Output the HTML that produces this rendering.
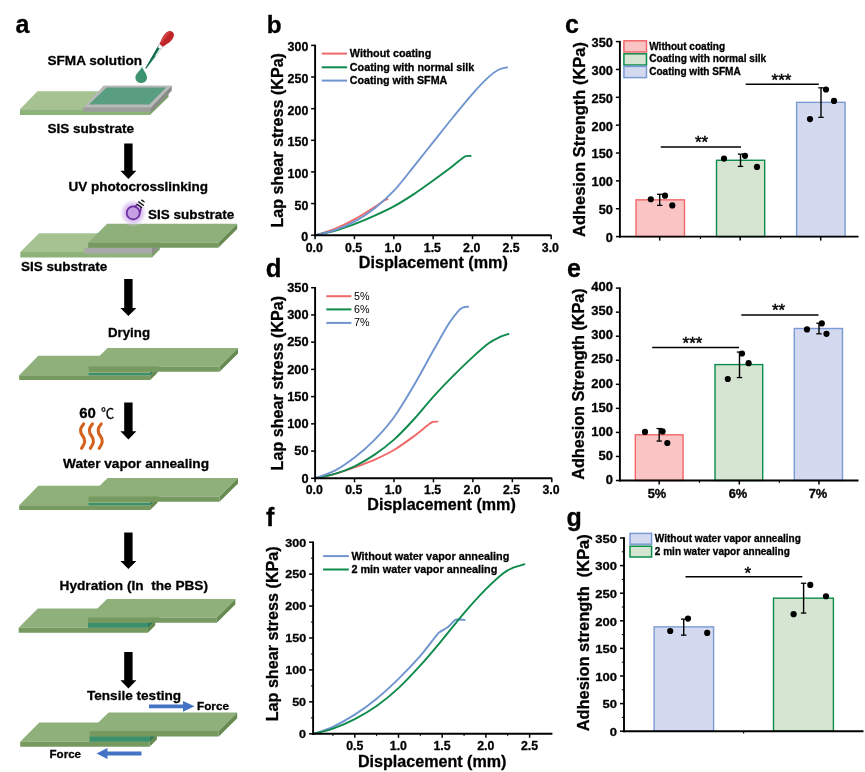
<!DOCTYPE html>
<html lang="en">
<head>
<meta charset="utf-8">
<title>Figure</title>
<style>
html,body{margin:0;padding:0;background:#fff;}
body{width:865px;height:772px;overflow:hidden;}
svg{display:block;filter:blur(0.45px);font-family:'Liberation Sans', 'Noto Sans CJK SC', sans-serif;}
text.b{stroke:#000;stroke-width:0.3px;stroke-linejoin:round;}
</style>
</head>
<body>
<svg width="865" height="772" viewBox="0 0 865 772" font-family="'Liberation Sans', 'Noto Sans CJK SC', sans-serif">
<rect width="865" height="772" fill="#ffffff"/>
<text x="15.50" y="32.50" font-size="25" font-weight="bold" class="b">a</text>
<text x="47.50" y="64.50" font-size="13.55" font-weight="bold" class="b" textLength="94.50" lengthAdjust="spacingAndGlyphs">SFMA solution</text>
<polygon points="37.50,91.20 168.00,91.20 150.00,109.20 20.00,109.20" fill="#a5c290"/>
<polygon points="20.00,109.20 150.00,109.20 150.00,115.00 20.00,115.00" fill="#8db27a"/>
<polygon points="150.00,109.20 168.50,91.20 168.50,97.00 150.00,115.00" fill="#7ea16b"/>
<polygon points="103.70,85.50 171.70,85.50 151.20,107.50 83.20,107.50" fill="#b9b9b9"/>
<polygon points="83.20,107.50 151.20,107.50 151.20,111.80 83.20,111.80" fill="#9d9d9d"/>
<polygon points="151.20,107.50 171.70,85.50 171.70,90.80 151.20,111.80" fill="#8a8a8a"/>
<polygon points="106.50,87.60 166.20,87.60 149.30,104.60 88.80,104.60" fill="#5a9e82"/>
<path d="M142.2,66.2 C142.6,70 147,73 147,77.5 C147,80.8 144.5,83 141.2,83 C137.9,83 135.4,80.8 135.4,77.5 C135.4,73 141,70.5 142.2,66.2 Z" fill="#3d9370"/>
<g transform="translate(145.8,68.5) rotate(-56.5)"><polygon points="0,-0.5 26.5,-2.2 26.5,2.2 0,0.5" fill="#1b7a5d"/><polygon points="0,-0.5 26.5,-2.2 26.5,-0.6 0,0" fill="#13634b"/><polygon points="16,0.7 26.5,0.6 26.5,2.2 16,1.5" fill="#eef3f0"/><polygon points="24.2,-1.9 28.2,-2.2 28.2,2.2 24.2,1.9" fill="#f6f6f6" stroke="#9a9a9a" stroke-width="0.3"/><g transform="translate(27.8,0) rotate(7)"><path d="M0,-2.3 C3,-2.7 6,-4.6 11,-4.6 C15,-4.6 17.6,-2.7 17.6,0 C17.6,2.7 15,4.6 11,4.6 C6,4.6 3,2.7 0,2.3 Z" fill="#bf2429"/><path d="M2,-2.1 C5,-3 7,-3.8 11,-3.8 C13.6,-3.8 15.4,-2.9 16.2,-1.6 C12,-2.2 6.5,-1.4 2,-0.7 Z" fill="#d9514d" opacity="0.75"/></g></g>
<text x="47.50" y="133.20" font-size="13.55" font-weight="bold" class="b" textLength="86.50" lengthAdjust="spacingAndGlyphs">SIS substrate</text>
<polygon points="124.20,143.40 132.60,143.40 132.60,170.80 136.40,170.80 128.40,179.00 120.40,170.80 124.20,170.80" fill="#000"/>
<text x="68.40" y="191.20" font-size="13.55" font-weight="bold" class="b" textLength="139.60" lengthAdjust="spacingAndGlyphs">UV photocrosslinking</text>
<defs><radialGradient id="uvg"><stop offset="0" stop-color="#c49ae6" stop-opacity="1"/><stop offset="0.5" stop-color="#c9a4e8" stop-opacity="0.85"/><stop offset="0.8" stop-color="#dcc4f0" stop-opacity="0.45"/><stop offset="1" stop-color="#efe4f8" stop-opacity="0"/></radialGradient></defs>
<polygon points="39.10,233.30 170.00,233.30 152.00,251.90 20.30,251.90" fill="#a5c290"/>
<polygon points="20.30,251.90 152.00,251.90 152.00,257.40 20.30,257.40" fill="#8db27a"/>
<polygon points="152.00,251.90 159.80,244.00 159.80,249.60 152.00,257.40" fill="#7ea16b"/>
<polygon points="84.40,247.50 152.00,247.50 152.00,253.80 84.40,253.80" fill="#a9a8a9"/>
<polygon points="152.00,247.50 159.80,240.00 159.80,246.20 152.00,253.80" fill="#8e8d8e"/>
<polygon points="107.10,223.70 237.20,223.70 218.30,242.70 88.20,242.70" fill="#8fb07a"/>
<polygon points="88.20,242.70 218.30,242.70 218.30,247.80 88.20,247.80" fill="#76995f"/>
<polygon points="218.30,242.70 237.20,223.70 237.20,229.00 218.30,247.80" fill="#668a50"/>
<circle cx="133.20" cy="212.90" r="14" fill="url(#uvg)"/>
<path d="M134.6,206.6 L137.0,204.9 M139.6,213.0 C140.4,211 140.8,209.4 141.0,207.6" stroke="#6a2ca0" stroke-width="1.6" fill="none" stroke-linecap="round"/>
<circle cx="133.2" cy="212.9" r="6.5" fill="#c3a0e0" fill-opacity="0.85" stroke="#6a2ca0" stroke-width="1.7"/>
<g stroke="#0d0d0d" stroke-width="1.3" stroke-linecap="round"><line x1="137.1" y1="204.2" x2="141.6" y2="207.5"/><line x1="138.7" y1="201.9" x2="143.4" y2="205.3"/><line x1="141.7" y1="200.1" x2="144.1" y2="201.8"/></g>
<text x="148.00" y="219.00" font-size="13.55" font-weight="bold" class="b" textLength="86.20" lengthAdjust="spacingAndGlyphs">SIS substrate</text>
<text x="21.00" y="271.20" font-size="13.55" font-weight="bold" class="b" textLength="86.20" lengthAdjust="spacingAndGlyphs">SIS substrate</text>
<polygon points="124.20,278.90 132.60,278.90 132.60,307.90 136.40,307.90 128.40,316.10 120.40,307.90 124.20,307.90" fill="#000"/>
<text x="108.00" y="336.80" font-size="13.55" font-weight="bold" class="b" textLength="42.00" lengthAdjust="spacingAndGlyphs">Drying</text>
<polygon points="38.30,355.80 170.00,355.80 150.20,375.20 19.20,375.20" fill="#8fb07a"/>
<polygon points="19.20,375.20 150.20,375.20 150.20,380.10 19.20,380.10" fill="#76995f"/>
<polygon points="150.20,375.20 157.50,367.90 157.50,372.80 150.20,380.10" fill="#668a50"/>
<polygon points="88.60,373.00 150.20,373.00 150.20,375.20 88.60,375.20" fill="#3a8f6c"/>
<polygon points="150.20,373.00 152.40,370.80 152.50,373.00 150.20,375.20" fill="#2c7a5a"/>
<polygon points="107.60,348.00 238.00,348.00 219.50,366.50 88.60,366.50" fill="#8fb07a"/>
<polygon points="88.60,366.50 219.50,366.50 219.50,371.80 88.60,371.80" fill="#76995f"/>
<polygon points="219.50,366.50 238.00,348.00 238.00,353.60 219.50,371.80" fill="#668a50"/>
<text x="79.20" y="417.80" font-size="15" font-weight="bold" class="b" textLength="16.60" lengthAdjust="spacingAndGlyphs">60</text>
<text x="100.90" y="417.80" font-size="13.2" stroke="#000" stroke-width="0.3">℃</text>
<polygon points="124.20,402.40 132.60,402.40 132.60,431.30 136.40,431.30 128.40,439.50 120.40,431.30 124.20,431.30" fill="#000"/>
<path d="M83.6,424 c-4.5,5 -3.5,8.5 -0.8,12 c2.8,3.8 2.8,7 -1.2,12.2" fill="none" stroke="#d4611d" stroke-width="3.2" stroke-linecap="round"/>
<path d="M92.4,424 c-4.5,5 -3.5,8.5 -0.8,12 c2.8,3.8 2.8,7 -1.2,12.2" fill="none" stroke="#d4611d" stroke-width="3.2" stroke-linecap="round"/>
<path d="M101.2,424 c-4.5,5 -3.5,8.5 -0.8,12 c2.8,3.8 2.8,7 -1.2,12.2" fill="none" stroke="#d4611d" stroke-width="3.2" stroke-linecap="round"/>
<text x="63.00" y="468.00" font-size="13.55" font-weight="bold" class="b" textLength="146.00" lengthAdjust="spacingAndGlyphs">Water vapor annealing</text>
<polygon points="38.30,485.80 170.00,485.80 150.20,505.20 19.20,505.20" fill="#8fb07a"/>
<polygon points="19.20,505.20 150.20,505.20 150.20,510.10 19.20,510.10" fill="#76995f"/>
<polygon points="150.20,505.20 157.50,497.90 157.50,502.80 150.20,510.10" fill="#668a50"/>
<polygon points="88.60,503.00 150.20,503.00 150.20,505.20 88.60,505.20" fill="#3a8f6c"/>
<polygon points="150.20,503.00 152.40,500.80 152.50,503.00 150.20,505.20" fill="#2c7a5a"/>
<polygon points="107.60,478.00 238.00,478.00 219.50,496.50 88.60,496.50" fill="#8fb07a"/>
<polygon points="88.60,496.50 219.50,496.50 219.50,501.80 88.60,501.80" fill="#76995f"/>
<polygon points="219.50,496.50 238.00,478.00 238.00,483.60 219.50,501.80" fill="#668a50"/>
<polygon points="124.20,532.40 132.60,532.40 132.60,560.90 136.40,560.90 128.40,569.10 120.40,560.90 124.20,560.90" fill="#000"/>
<text x="59.60" y="589.50" font-size="13.55" font-weight="bold" class="b" textLength="148.40" lengthAdjust="spacingAndGlyphs">Hydration (In  the PBS)</text>
<polygon points="37.80,608.40 169.50,608.40 147.90,627.80 18.70,627.80" fill="#8fb07a"/>
<polygon points="18.70,627.80 147.90,627.80 147.90,632.70 18.70,632.70" fill="#76995f"/>
<polygon points="147.90,627.80 155.20,620.50 155.20,625.40 147.90,632.70" fill="#668a50"/>
<polygon points="88.10,622.40 147.90,622.40 147.90,627.80 88.10,627.80" fill="#3a8f6c"/>
<polygon points="147.90,622.40 153.30,617.00 153.40,622.40 147.90,627.80" fill="#2c7a5a"/>
<polygon points="107.10,598.90 235.30,598.90 216.80,617.40 88.10,617.40" fill="#8fb07a"/>
<polygon points="88.10,617.40 216.80,617.40 216.80,622.70 88.10,622.70" fill="#76995f"/>
<polygon points="216.80,617.40 235.30,598.90 235.30,604.50 216.80,622.70" fill="#668a50"/>
<polygon points="124.20,651.90 132.60,651.90 132.60,680.30 136.40,680.30 128.40,688.50 120.40,680.30 124.20,680.30" fill="#000"/>
<text x="87.00" y="700.00" font-size="13.55" font-weight="bold" class="b" textLength="94.00" lengthAdjust="spacingAndGlyphs">Tensile testing</text>
<polygon points="149.00,704.60 183.00,704.60 183.00,701.00 194.50,706.30 183.00,711.80 183.00,708.20 149.00,708.20" fill="#4472c4"/>
<text x="197.00" y="710.20" font-size="11.75" font-weight="bold" class="b" textLength="32.00" lengthAdjust="spacingAndGlyphs">Force</text>
<polygon points="39.30,722.40 171.00,722.40 149.60,741.80 20.20,741.80" fill="#8fb07a"/>
<polygon points="20.20,741.80 149.60,741.80 149.60,746.70 20.20,746.70" fill="#76995f"/>
<polygon points="149.60,741.80 156.90,734.50 156.90,739.40 149.60,746.70" fill="#668a50"/>
<polygon points="89.60,736.30 149.60,736.30 149.60,741.80 89.60,741.80" fill="#3a8f6c"/>
<polygon points="149.60,736.30 155.10,730.80 155.20,736.30 149.60,741.80" fill="#2c7a5a"/>
<polygon points="108.60,712.60 237.20,712.60 218.70,731.10 89.60,731.10" fill="#8fb07a"/>
<polygon points="89.60,731.10 218.70,731.10 218.70,736.40 89.60,736.40" fill="#76995f"/>
<polygon points="218.70,731.10 237.20,712.60 237.20,718.20 218.70,736.40" fill="#668a50"/>
<text x="49.50" y="758.00" font-size="11.75" font-weight="bold" class="b" textLength="31.50" lengthAdjust="spacingAndGlyphs">Force</text>
<polygon points="141.50,751.60 107.50,751.60 107.50,748.00 96.50,753.50 107.50,759.00 107.50,755.40 141.50,755.40" fill="#4472c4"/>
<text x="266.70" y="32.50" font-size="24.3" font-weight="bold" class="b">b</text>
<path d="M315.10,235.20 C318.38,234.15 328.22,231.51 334.78,228.87 C341.33,226.24 347.89,222.97 354.45,219.38 C361.01,215.80 369.14,210.53 374.12,207.36 C379.11,204.20 382.13,201.77 384.36,200.40 C386.59,199.03 386.98,199.35 387.50,199.14" fill="none" stroke="#f0696a" stroke-width="1.9" stroke-linecap="round" stroke-linejoin="round"/>
<path d="M315.10,235.20 C318.38,234.46 328.22,232.62 334.78,230.77 C341.33,228.93 347.89,226.61 354.45,224.13 C361.01,221.65 367.57,218.86 374.12,215.90 C380.68,212.95 387.24,210.00 393.80,206.41 C400.36,202.83 406.92,198.72 413.48,194.39 C420.03,190.07 426.59,185.22 433.15,180.47 C439.71,175.73 448.10,169.51 452.83,165.92 C457.55,162.34 459.32,160.60 461.48,158.96 C463.65,157.33 464.29,156.62 465.81,156.12 C467.33,155.61 469.81,155.96 470.61,155.93" fill="none" stroke="#0d8a4c" stroke-width="1.9" stroke-linecap="round" stroke-linejoin="round"/>
<path d="M315.10,235.20 C318.38,234.36 328.22,232.41 334.78,230.14 C341.33,227.87 347.89,225.18 354.45,221.60 C361.01,218.01 367.57,213.74 374.12,208.63 C380.68,203.51 387.24,197.87 393.80,190.91 C400.36,183.95 406.92,174.99 413.48,166.87 C420.03,158.75 426.59,150.42 433.15,142.20 C439.71,133.97 446.27,125.59 452.83,117.52 C459.38,109.46 466.60,100.49 472.50,93.80 C478.40,87.10 483.91,81.36 488.24,77.35 C492.57,73.34 495.32,71.42 498.47,69.76 C501.62,68.09 505.69,67.75 507.13,67.35" fill="none" stroke="#6f94cf" stroke-width="1.9" stroke-linecap="round" stroke-linejoin="round"/>
<line x1="315.10" y1="44.70" x2="315.10" y2="236.15" stroke="#000" stroke-width="1.9" stroke-linecap="butt"/>
<line x1="314.15" y1="235.20" x2="551.40" y2="235.20" stroke="#000" stroke-width="1.9" stroke-linecap="butt"/>
<line x1="311.10" y1="235.20" x2="315.10" y2="235.20" stroke="#000" stroke-width="1.5" stroke-linecap="butt"/>
<text x="308.30" y="241.20" font-size="12.2" font-weight="bold" class="b" text-anchor="end" textLength="6.91" lengthAdjust="spacingAndGlyphs">0</text>
<line x1="311.10" y1="203.57" x2="315.10" y2="203.57" stroke="#000" stroke-width="1.5" stroke-linecap="butt"/>
<text x="308.30" y="209.57" font-size="12.2" font-weight="bold" class="b" text-anchor="end" textLength="13.81" lengthAdjust="spacingAndGlyphs">50</text>
<line x1="311.10" y1="171.93" x2="315.10" y2="171.93" stroke="#000" stroke-width="1.5" stroke-linecap="butt"/>
<text x="308.30" y="177.93" font-size="12.2" font-weight="bold" class="b" text-anchor="end" textLength="20.72" lengthAdjust="spacingAndGlyphs">100</text>
<line x1="311.10" y1="140.30" x2="315.10" y2="140.30" stroke="#000" stroke-width="1.5" stroke-linecap="butt"/>
<text x="308.30" y="146.30" font-size="12.2" font-weight="bold" class="b" text-anchor="end" textLength="20.72" lengthAdjust="spacingAndGlyphs">150</text>
<line x1="311.10" y1="108.67" x2="315.10" y2="108.67" stroke="#000" stroke-width="1.5" stroke-linecap="butt"/>
<text x="308.30" y="114.67" font-size="12.2" font-weight="bold" class="b" text-anchor="end" textLength="20.72" lengthAdjust="spacingAndGlyphs">200</text>
<line x1="311.10" y1="77.03" x2="315.10" y2="77.03" stroke="#000" stroke-width="1.5" stroke-linecap="butt"/>
<text x="308.30" y="83.03" font-size="12.2" font-weight="bold" class="b" text-anchor="end" textLength="20.72" lengthAdjust="spacingAndGlyphs">250</text>
<line x1="311.10" y1="45.40" x2="315.10" y2="45.40" stroke="#000" stroke-width="1.5" stroke-linecap="butt"/>
<text x="308.30" y="51.40" font-size="12.2" font-weight="bold" class="b" text-anchor="end" textLength="20.72" lengthAdjust="spacingAndGlyphs">300</text>
<line x1="315.10" y1="235.20" x2="315.10" y2="239.20" stroke="#000" stroke-width="1.5" stroke-linecap="butt"/>
<text x="314.30" y="251.60" font-size="12.2" font-weight="bold" class="b" text-anchor="middle" textLength="17.13" lengthAdjust="spacingAndGlyphs">0.0</text>
<line x1="354.45" y1="235.20" x2="354.45" y2="239.20" stroke="#000" stroke-width="1.5" stroke-linecap="butt"/>
<text x="353.65" y="251.60" font-size="12.2" font-weight="bold" class="b" text-anchor="middle" textLength="17.13" lengthAdjust="spacingAndGlyphs">0.5</text>
<line x1="393.80" y1="235.20" x2="393.80" y2="239.20" stroke="#000" stroke-width="1.5" stroke-linecap="butt"/>
<text x="393.00" y="251.60" font-size="12.2" font-weight="bold" class="b" text-anchor="middle" textLength="17.13" lengthAdjust="spacingAndGlyphs">1.0</text>
<line x1="433.15" y1="235.20" x2="433.15" y2="239.20" stroke="#000" stroke-width="1.5" stroke-linecap="butt"/>
<text x="432.35" y="251.60" font-size="12.2" font-weight="bold" class="b" text-anchor="middle" textLength="17.13" lengthAdjust="spacingAndGlyphs">1.5</text>
<line x1="472.50" y1="235.20" x2="472.50" y2="239.20" stroke="#000" stroke-width="1.5" stroke-linecap="butt"/>
<text x="471.70" y="251.60" font-size="12.2" font-weight="bold" class="b" text-anchor="middle" textLength="17.13" lengthAdjust="spacingAndGlyphs">2.0</text>
<line x1="511.85" y1="235.20" x2="511.85" y2="239.20" stroke="#000" stroke-width="1.5" stroke-linecap="butt"/>
<text x="511.05" y="251.60" font-size="12.2" font-weight="bold" class="b" text-anchor="middle" textLength="17.13" lengthAdjust="spacingAndGlyphs">2.5</text>
<line x1="551.20" y1="235.20" x2="551.20" y2="239.20" stroke="#000" stroke-width="1.5" stroke-linecap="butt"/>
<text x="550.40" y="251.60" font-size="12.2" font-weight="bold" class="b" text-anchor="middle" textLength="17.13" lengthAdjust="spacingAndGlyphs">3.0</text>
<text x="358.80" y="268.00" font-size="16" font-weight="bold" class="b" textLength="149.00" lengthAdjust="spacingAndGlyphs">Displacement (mm)</text>
<text x="282.50" y="227.50" font-size="16.1" font-weight="bold" class="b" textLength="174.50" lengthAdjust="spacingAndGlyphs" transform="rotate(-90 282.50 227.50)">Lap shear stress (KPa)</text>
<line x1="321.70" y1="53.60" x2="347.10" y2="53.60" stroke="#f0696a" stroke-width="2.0" stroke-linecap="butt"/>
<text x="349.80" y="57.10" font-size="10.8" font-weight="bold" class="b" textLength="81.50" lengthAdjust="spacingAndGlyphs">Without coating</text>
<line x1="321.70" y1="67.30" x2="347.10" y2="67.30" stroke="#0d8a4c" stroke-width="2.0" stroke-linecap="butt"/>
<text x="349.80" y="70.80" font-size="10.8" font-weight="bold" class="b" textLength="124.50" lengthAdjust="spacingAndGlyphs">Coating with normal silk</text>
<line x1="321.70" y1="80.60" x2="347.10" y2="80.60" stroke="#6f94cf" stroke-width="2.0" stroke-linecap="butt"/>
<text x="349.80" y="84.10" font-size="10.8" font-weight="bold" class="b" textLength="97.50" lengthAdjust="spacingAndGlyphs">Coating with SFMA</text>
<text x="265.80" y="276.80" font-size="25.8" font-weight="bold" class="b">d</text>
<path d="M315.10,478.30 C318.39,477.57 328.25,475.76 334.83,473.94 C341.40,472.13 347.98,469.77 354.55,467.41 C361.12,465.05 367.70,462.69 374.28,459.78 C380.85,456.88 387.43,453.89 394.00,449.98 C400.57,446.08 407.81,440.72 413.73,436.37 C419.64,432.01 426.22,426.25 429.50,423.84 C432.79,421.44 432.14,422.30 433.45,421.94 C434.77,421.57 436.74,421.71 437.40,421.66" fill="none" stroke="#f0696a" stroke-width="1.9" stroke-linecap="round" stroke-linejoin="round"/>
<path d="M315.10,478.30 C318.39,477.57 328.25,475.94 334.83,473.94 C341.40,471.95 347.98,469.50 354.55,466.32 C361.12,463.14 367.70,459.33 374.28,454.88 C380.85,450.44 387.43,445.53 394.00,439.64 C400.57,433.74 407.15,426.66 413.73,419.49 C420.30,412.32 426.88,403.88 433.45,396.61 C440.03,389.35 446.60,382.55 453.18,375.92 C459.75,369.29 466.98,362.31 472.90,356.86 C478.82,351.41 484.08,346.60 488.68,343.25 C493.28,339.89 497.23,338.25 500.52,336.71 C503.80,335.17 507.09,334.44 508.41,333.99" fill="none" stroke="#0d8a4c" stroke-width="1.9" stroke-linecap="round" stroke-linejoin="round"/>
<path d="M315.10,478.30 C318.39,477.03 328.25,474.12 334.83,470.68 C341.40,467.23 347.98,462.69 354.55,457.61 C361.12,452.52 367.70,446.90 374.28,440.18 C380.85,433.46 387.43,426.38 394.00,417.31 C400.57,408.23 407.15,396.89 413.73,385.72 C420.30,374.56 427.53,360.76 433.45,350.33 C439.37,339.89 445.02,329.72 449.23,323.10 C453.44,316.47 456.33,313.20 458.70,310.57 C461.07,307.94 461.85,307.94 463.43,307.30 C465.01,306.67 467.38,306.85 468.17,306.76" fill="none" stroke="#6f94cf" stroke-width="1.9" stroke-linecap="round" stroke-linejoin="round"/>
<line x1="315.10" y1="287.00" x2="315.10" y2="479.25" stroke="#000" stroke-width="1.9" stroke-linecap="butt"/>
<line x1="314.15" y1="478.30" x2="552.20" y2="478.30" stroke="#000" stroke-width="1.9" stroke-linecap="butt"/>
<line x1="311.10" y1="478.30" x2="315.10" y2="478.30" stroke="#000" stroke-width="1.5" stroke-linecap="butt"/>
<text x="308.50" y="482.60" font-size="12" font-weight="bold" class="b" text-anchor="end" textLength="7.09" lengthAdjust="spacingAndGlyphs">0</text>
<line x1="311.10" y1="451.07" x2="315.10" y2="451.07" stroke="#000" stroke-width="1.5" stroke-linecap="butt"/>
<text x="308.50" y="455.37" font-size="12" font-weight="bold" class="b" text-anchor="end" textLength="14.19" lengthAdjust="spacingAndGlyphs">50</text>
<line x1="311.10" y1="423.84" x2="315.10" y2="423.84" stroke="#000" stroke-width="1.5" stroke-linecap="butt"/>
<text x="308.50" y="428.14" font-size="12" font-weight="bold" class="b" text-anchor="end" textLength="21.28" lengthAdjust="spacingAndGlyphs">100</text>
<line x1="311.10" y1="396.61" x2="315.10" y2="396.61" stroke="#000" stroke-width="1.5" stroke-linecap="butt"/>
<text x="308.50" y="400.91" font-size="12" font-weight="bold" class="b" text-anchor="end" textLength="21.28" lengthAdjust="spacingAndGlyphs">150</text>
<line x1="311.10" y1="369.39" x2="315.10" y2="369.39" stroke="#000" stroke-width="1.5" stroke-linecap="butt"/>
<text x="308.50" y="373.69" font-size="12" font-weight="bold" class="b" text-anchor="end" textLength="21.28" lengthAdjust="spacingAndGlyphs">200</text>
<line x1="311.10" y1="342.16" x2="315.10" y2="342.16" stroke="#000" stroke-width="1.5" stroke-linecap="butt"/>
<text x="308.50" y="346.46" font-size="12" font-weight="bold" class="b" text-anchor="end" textLength="21.28" lengthAdjust="spacingAndGlyphs">250</text>
<line x1="311.10" y1="314.93" x2="315.10" y2="314.93" stroke="#000" stroke-width="1.5" stroke-linecap="butt"/>
<text x="308.50" y="319.23" font-size="12" font-weight="bold" class="b" text-anchor="end" textLength="21.28" lengthAdjust="spacingAndGlyphs">300</text>
<line x1="311.10" y1="287.70" x2="315.10" y2="287.70" stroke="#000" stroke-width="1.5" stroke-linecap="butt"/>
<text x="308.50" y="292.00" font-size="12" font-weight="bold" class="b" text-anchor="end" textLength="21.28" lengthAdjust="spacingAndGlyphs">350</text>
<line x1="315.10" y1="478.30" x2="315.10" y2="482.30" stroke="#000" stroke-width="1.5" stroke-linecap="butt"/>
<text x="314.30" y="494.40" font-size="12.8" font-weight="bold" class="b" text-anchor="middle" textLength="17.14" lengthAdjust="spacingAndGlyphs">0.0</text>
<line x1="354.55" y1="478.30" x2="354.55" y2="482.30" stroke="#000" stroke-width="1.5" stroke-linecap="butt"/>
<text x="353.75" y="494.40" font-size="12.8" font-weight="bold" class="b" text-anchor="middle" textLength="17.14" lengthAdjust="spacingAndGlyphs">0.5</text>
<line x1="394.00" y1="478.30" x2="394.00" y2="482.30" stroke="#000" stroke-width="1.5" stroke-linecap="butt"/>
<text x="393.20" y="494.40" font-size="12.8" font-weight="bold" class="b" text-anchor="middle" textLength="17.14" lengthAdjust="spacingAndGlyphs">1.0</text>
<line x1="433.45" y1="478.30" x2="433.45" y2="482.30" stroke="#000" stroke-width="1.5" stroke-linecap="butt"/>
<text x="432.65" y="494.40" font-size="12.8" font-weight="bold" class="b" text-anchor="middle" textLength="17.14" lengthAdjust="spacingAndGlyphs">1.5</text>
<line x1="472.90" y1="478.30" x2="472.90" y2="482.30" stroke="#000" stroke-width="1.5" stroke-linecap="butt"/>
<text x="472.10" y="494.40" font-size="12.8" font-weight="bold" class="b" text-anchor="middle" textLength="17.14" lengthAdjust="spacingAndGlyphs">2.0</text>
<line x1="512.35" y1="478.30" x2="512.35" y2="482.30" stroke="#000" stroke-width="1.5" stroke-linecap="butt"/>
<text x="511.55" y="494.40" font-size="12.8" font-weight="bold" class="b" text-anchor="middle" textLength="17.14" lengthAdjust="spacingAndGlyphs">2.5</text>
<line x1="551.80" y1="478.30" x2="551.80" y2="482.30" stroke="#000" stroke-width="1.5" stroke-linecap="butt"/>
<text x="551.00" y="494.40" font-size="12.8" font-weight="bold" class="b" text-anchor="middle" textLength="17.14" lengthAdjust="spacingAndGlyphs">3.0</text>
<text x="367.30" y="510.00" font-size="16" font-weight="bold" class="b" textLength="148.50" lengthAdjust="spacingAndGlyphs">Displacement (mm)</text>
<text x="283.00" y="470.40" font-size="16.1" font-weight="bold" class="b" textLength="174.50" lengthAdjust="spacingAndGlyphs" transform="rotate(-90 283.00 470.40)">Lap shear stress (KPa)</text>
<line x1="326.30" y1="296.20" x2="351.40" y2="296.20" stroke="#f0696a" stroke-width="2.0" stroke-linecap="butt"/>
<text x="354.00" y="299.70" font-size="10.8" textLength="15.50" lengthAdjust="spacingAndGlyphs">5%</text>
<line x1="326.30" y1="309.40" x2="351.40" y2="309.40" stroke="#0d8a4c" stroke-width="2.0" stroke-linecap="butt"/>
<text x="354.00" y="312.90" font-size="10.8" textLength="15.50" lengthAdjust="spacingAndGlyphs">6%</text>
<line x1="326.30" y1="322.90" x2="351.40" y2="322.90" stroke="#6f94cf" stroke-width="2.0" stroke-linecap="butt"/>
<text x="354.00" y="326.40" font-size="10.8" textLength="15.50" lengthAdjust="spacingAndGlyphs">7%</text>
<text x="266.00" y="525.80" font-size="25" font-weight="bold" class="b">f</text>
<path d="M313.71,733.80 C316.92,732.63 326.09,729.97 332.94,726.77 C339.79,723.58 347.51,719.32 354.79,714.64 C362.07,709.96 369.36,704.63 376.64,698.67 C383.92,692.71 391.21,686.01 398.49,678.87 C405.77,671.74 413.93,663.23 420.34,655.88 C426.75,648.54 433.60,638.85 436.95,634.81 C440.30,630.76 438.55,632.94 440.44,631.61 C442.34,630.28 445.98,628.69 448.31,626.82 C450.64,624.96 452.82,621.66 454.43,620.44 C456.03,619.21 456.25,619.56 457.92,619.48 C459.60,619.39 463.38,619.85 464.48,619.93" fill="none" stroke="#6f94cf" stroke-width="1.9" stroke-linecap="round" stroke-linejoin="round"/>
<path d="M313.71,733.80 C316.92,732.95 326.09,731.14 332.94,728.69 C339.79,726.24 347.51,722.89 354.79,719.11 C362.07,715.33 369.36,711.18 376.64,706.02 C383.92,700.86 391.21,694.89 398.49,688.14 C405.77,681.38 413.06,673.50 420.34,665.46 C427.62,657.43 434.91,648.64 442.19,639.92 C449.47,631.19 456.76,621.55 464.04,613.09 C471.32,604.63 479.33,595.79 485.89,589.14 C492.44,582.49 498.71,576.79 503.37,573.18 C508.03,569.56 510.36,568.92 513.86,567.43 C517.35,565.94 522.60,564.77 524.35,564.23" fill="none" stroke="#0d8a4c" stroke-width="1.9" stroke-linecap="round" stroke-linejoin="round"/>
<line x1="313.10" y1="541.50" x2="313.10" y2="734.75" stroke="#000" stroke-width="1.9" stroke-linecap="butt"/>
<line x1="312.15" y1="733.80" x2="552.40" y2="733.80" stroke="#000" stroke-width="1.9" stroke-linecap="butt"/>
<line x1="309.10" y1="733.80" x2="313.10" y2="733.80" stroke="#000" stroke-width="1.5" stroke-linecap="butt"/>
<text x="306.10" y="738.10" font-size="11.5" font-weight="bold" class="b" text-anchor="end" textLength="6.97" lengthAdjust="spacingAndGlyphs">0</text>
<line x1="310.90" y1="717.83" x2="313.10" y2="717.83" stroke="#000" stroke-width="1.0" stroke-linecap="butt"/>
<line x1="309.10" y1="701.87" x2="313.10" y2="701.87" stroke="#000" stroke-width="1.5" stroke-linecap="butt"/>
<text x="306.10" y="706.17" font-size="11.5" font-weight="bold" class="b" text-anchor="end" textLength="13.94" lengthAdjust="spacingAndGlyphs">50</text>
<line x1="310.90" y1="685.90" x2="313.10" y2="685.90" stroke="#000" stroke-width="1.0" stroke-linecap="butt"/>
<line x1="309.10" y1="669.93" x2="313.10" y2="669.93" stroke="#000" stroke-width="1.5" stroke-linecap="butt"/>
<text x="306.10" y="674.23" font-size="11.5" font-weight="bold" class="b" text-anchor="end" textLength="20.91" lengthAdjust="spacingAndGlyphs">100</text>
<line x1="310.90" y1="653.97" x2="313.10" y2="653.97" stroke="#000" stroke-width="1.0" stroke-linecap="butt"/>
<line x1="309.10" y1="638.00" x2="313.10" y2="638.00" stroke="#000" stroke-width="1.5" stroke-linecap="butt"/>
<text x="306.10" y="642.30" font-size="11.5" font-weight="bold" class="b" text-anchor="end" textLength="20.91" lengthAdjust="spacingAndGlyphs">150</text>
<line x1="310.90" y1="622.03" x2="313.10" y2="622.03" stroke="#000" stroke-width="1.0" stroke-linecap="butt"/>
<line x1="309.10" y1="606.07" x2="313.10" y2="606.07" stroke="#000" stroke-width="1.5" stroke-linecap="butt"/>
<text x="306.10" y="610.37" font-size="11.5" font-weight="bold" class="b" text-anchor="end" textLength="20.91" lengthAdjust="spacingAndGlyphs">200</text>
<line x1="310.90" y1="590.10" x2="313.10" y2="590.10" stroke="#000" stroke-width="1.0" stroke-linecap="butt"/>
<line x1="309.10" y1="574.13" x2="313.10" y2="574.13" stroke="#000" stroke-width="1.5" stroke-linecap="butt"/>
<text x="306.10" y="578.43" font-size="11.5" font-weight="bold" class="b" text-anchor="end" textLength="20.91" lengthAdjust="spacingAndGlyphs">250</text>
<line x1="310.90" y1="558.17" x2="313.10" y2="558.17" stroke="#000" stroke-width="1.0" stroke-linecap="butt"/>
<line x1="309.10" y1="542.20" x2="313.10" y2="542.20" stroke="#000" stroke-width="1.5" stroke-linecap="butt"/>
<text x="306.10" y="546.50" font-size="11.5" font-weight="bold" class="b" text-anchor="end" textLength="20.91" lengthAdjust="spacingAndGlyphs">300</text>
<line x1="354.79" y1="733.80" x2="354.79" y2="737.80" stroke="#000" stroke-width="1.5" stroke-linecap="butt"/>
<text x="354.69" y="750.20" font-size="12.2" font-weight="bold" class="b" text-anchor="middle" textLength="17.13" lengthAdjust="spacingAndGlyphs">0.5</text>
<line x1="332.94" y1="733.80" x2="332.94" y2="736.10" stroke="#000" stroke-width="1.0" stroke-linecap="butt"/>
<line x1="398.49" y1="733.80" x2="398.49" y2="737.80" stroke="#000" stroke-width="1.5" stroke-linecap="butt"/>
<text x="398.39" y="750.20" font-size="12.2" font-weight="bold" class="b" text-anchor="middle" textLength="17.13" lengthAdjust="spacingAndGlyphs">1.0</text>
<line x1="376.64" y1="733.80" x2="376.64" y2="736.10" stroke="#000" stroke-width="1.0" stroke-linecap="butt"/>
<line x1="442.19" y1="733.80" x2="442.19" y2="737.80" stroke="#000" stroke-width="1.5" stroke-linecap="butt"/>
<text x="442.09" y="750.20" font-size="12.2" font-weight="bold" class="b" text-anchor="middle" textLength="17.13" lengthAdjust="spacingAndGlyphs">1.5</text>
<line x1="420.34" y1="733.80" x2="420.34" y2="736.10" stroke="#000" stroke-width="1.0" stroke-linecap="butt"/>
<line x1="485.89" y1="733.80" x2="485.89" y2="737.80" stroke="#000" stroke-width="1.5" stroke-linecap="butt"/>
<text x="485.79" y="750.20" font-size="12.2" font-weight="bold" class="b" text-anchor="middle" textLength="17.13" lengthAdjust="spacingAndGlyphs">2.0</text>
<line x1="464.04" y1="733.80" x2="464.04" y2="736.10" stroke="#000" stroke-width="1.0" stroke-linecap="butt"/>
<line x1="529.59" y1="733.80" x2="529.59" y2="737.80" stroke="#000" stroke-width="1.5" stroke-linecap="butt"/>
<text x="529.49" y="750.20" font-size="12.2" font-weight="bold" class="b" text-anchor="middle" textLength="17.13" lengthAdjust="spacingAndGlyphs">2.5</text>
<line x1="507.74" y1="733.80" x2="507.74" y2="736.10" stroke="#000" stroke-width="1.0" stroke-linecap="butt"/>
<text x="358.00" y="767.00" font-size="16" font-weight="bold" class="b" textLength="148.40" lengthAdjust="spacingAndGlyphs">Displacement (mm)</text>
<text x="278.30" y="721.30" font-size="16.1" font-weight="bold" class="b" textLength="175.00" lengthAdjust="spacingAndGlyphs" transform="rotate(-90 278.30 721.30)">Lap shear stress (KPa)</text>
<line x1="323.10" y1="556.10" x2="348.80" y2="556.10" stroke="#6f94cf" stroke-width="2.0" stroke-linecap="butt"/>
<text x="351.40" y="559.60" font-size="10.8" font-weight="bold" class="b" textLength="158.00" lengthAdjust="spacingAndGlyphs">Without water vapor annealing</text>
<line x1="323.10" y1="569.50" x2="348.80" y2="569.50" stroke="#0d8a4c" stroke-width="2.0" stroke-linecap="butt"/>
<text x="351.40" y="573.00" font-size="10.8" font-weight="bold" class="b" textLength="146.00" lengthAdjust="spacingAndGlyphs">2 min water vapor annealing</text>
<text x="564.90" y="32.50" font-size="25" font-weight="bold" class="b">c</text>
<rect x="636.00" y="199.83" width="48.50" height="36.77" fill="#fbc4c4" stroke="#f0686b" stroke-width="1.4"/>
<line x1="659.70" y1="194.26" x2="659.70" y2="205.40" stroke="#000" stroke-width="1.4" stroke-linecap="butt"/>
<line x1="657.00" y1="194.26" x2="662.40" y2="194.26" stroke="#000" stroke-width="1.3" stroke-linecap="butt"/>
<line x1="657.00" y1="205.40" x2="662.40" y2="205.40" stroke="#000" stroke-width="1.3" stroke-linecap="butt"/>
<circle cx="650.80" cy="199.27" r="3.1" fill="#000"/>
<circle cx="665.00" cy="195.65" r="3.1" fill="#000"/>
<circle cx="672.30" cy="205.40" r="3.1" fill="#000"/>
<rect x="716.50" y="160.27" width="48.20" height="76.33" fill="#d5e5d2" stroke="#0c8c4c" stroke-width="1.4"/>
<line x1="740.50" y1="154.14" x2="740.50" y2="166.40" stroke="#000" stroke-width="1.4" stroke-linecap="butt"/>
<line x1="737.80" y1="154.14" x2="743.20" y2="154.14" stroke="#000" stroke-width="1.3" stroke-linecap="butt"/>
<line x1="737.80" y1="166.40" x2="743.20" y2="166.40" stroke="#000" stroke-width="1.3" stroke-linecap="butt"/>
<circle cx="724.00" cy="158.60" r="3.1" fill="#000"/>
<circle cx="745.00" cy="155.81" r="3.1" fill="#000"/>
<circle cx="757.00" cy="166.96" r="3.1" fill="#000"/>
<rect x="796.60" y="102.33" width="48.50" height="134.27" fill="#d3d9ee" stroke="#7b9bd6" stroke-width="1.4"/>
<line x1="821.00" y1="87.84" x2="821.00" y2="117.37" stroke="#000" stroke-width="1.4" stroke-linecap="butt"/>
<line x1="818.30" y1="87.84" x2="823.70" y2="87.84" stroke="#000" stroke-width="1.3" stroke-linecap="butt"/>
<line x1="818.30" y1="117.37" x2="823.70" y2="117.37" stroke="#000" stroke-width="1.3" stroke-linecap="butt"/>
<circle cx="810.00" cy="119.04" r="3.1" fill="#000"/>
<circle cx="826.00" cy="89.51" r="3.1" fill="#000"/>
<circle cx="834.00" cy="100.94" r="3.1" fill="#000"/>
<line x1="619.90" y1="40.90" x2="619.90" y2="237.55" stroke="#000" stroke-width="1.9" stroke-linecap="butt"/>
<line x1="618.95" y1="236.60" x2="858.50" y2="236.60" stroke="#000" stroke-width="1.9" stroke-linecap="butt"/>
<line x1="615.90" y1="236.60" x2="619.90" y2="236.60" stroke="#000" stroke-width="1.5" stroke-linecap="butt"/>
<text x="613.00" y="242.00" font-size="12.2" font-weight="bold" class="b" text-anchor="end" textLength="7.12" lengthAdjust="spacingAndGlyphs">0</text>
<line x1="615.90" y1="208.74" x2="619.90" y2="208.74" stroke="#000" stroke-width="1.5" stroke-linecap="butt"/>
<text x="613.00" y="214.14" font-size="12.2" font-weight="bold" class="b" text-anchor="end" textLength="14.25" lengthAdjust="spacingAndGlyphs">50</text>
<line x1="615.90" y1="180.89" x2="619.90" y2="180.89" stroke="#000" stroke-width="1.5" stroke-linecap="butt"/>
<text x="613.00" y="186.29" font-size="12.2" font-weight="bold" class="b" text-anchor="end" textLength="21.37" lengthAdjust="spacingAndGlyphs">100</text>
<line x1="615.90" y1="153.03" x2="619.90" y2="153.03" stroke="#000" stroke-width="1.5" stroke-linecap="butt"/>
<text x="613.00" y="158.43" font-size="12.2" font-weight="bold" class="b" text-anchor="end" textLength="21.37" lengthAdjust="spacingAndGlyphs">150</text>
<line x1="615.90" y1="125.17" x2="619.90" y2="125.17" stroke="#000" stroke-width="1.5" stroke-linecap="butt"/>
<text x="613.00" y="130.57" font-size="12.2" font-weight="bold" class="b" text-anchor="end" textLength="21.37" lengthAdjust="spacingAndGlyphs">200</text>
<line x1="615.90" y1="97.31" x2="619.90" y2="97.31" stroke="#000" stroke-width="1.5" stroke-linecap="butt"/>
<text x="613.00" y="102.71" font-size="12.2" font-weight="bold" class="b" text-anchor="end" textLength="21.37" lengthAdjust="spacingAndGlyphs">250</text>
<line x1="615.90" y1="69.46" x2="619.90" y2="69.46" stroke="#000" stroke-width="1.5" stroke-linecap="butt"/>
<text x="613.00" y="74.86" font-size="12.2" font-weight="bold" class="b" text-anchor="end" textLength="21.37" lengthAdjust="spacingAndGlyphs">300</text>
<line x1="615.90" y1="41.60" x2="619.90" y2="41.60" stroke="#000" stroke-width="1.5" stroke-linecap="butt"/>
<text x="613.00" y="47.00" font-size="12.2" font-weight="bold" class="b" text-anchor="end" textLength="21.37" lengthAdjust="spacingAndGlyphs">350</text>
<line x1="659.70" y1="236.60" x2="659.70" y2="240.60" stroke="#000" stroke-width="1.5" stroke-linecap="butt"/>
<line x1="740.20" y1="236.60" x2="740.20" y2="240.60" stroke="#000" stroke-width="1.5" stroke-linecap="butt"/>
<line x1="820.70" y1="236.60" x2="820.70" y2="240.60" stroke="#000" stroke-width="1.5" stroke-linecap="butt"/>
<line x1="700.40" y1="236.60" x2="700.40" y2="239.00" stroke="#000" stroke-width="1.1" stroke-linecap="butt"/>
<line x1="780.60" y1="236.60" x2="780.60" y2="239.00" stroke="#000" stroke-width="1.1" stroke-linecap="butt"/>
<rect x="623.90" y="40.80" width="22.60" height="11.20" fill="#fbc4c4" stroke="#f0686b" stroke-width="1.5"/>
<text x="649.20" y="49.80" font-size="10.1" font-weight="bold" class="b" textLength="76.00" lengthAdjust="spacingAndGlyphs">Without coating</text>
<rect x="623.90" y="53.80" width="22.60" height="11.20" fill="#d5e5d2" stroke="#0c8c4c" stroke-width="1.5"/>
<text x="649.20" y="62.40" font-size="10.1" font-weight="bold" class="b" textLength="117.00" lengthAdjust="spacingAndGlyphs">Coating with normal silk</text>
<rect x="623.90" y="66.40" width="22.60" height="11.20" fill="#d3d9ee" stroke="#7b9bd6" stroke-width="1.5"/>
<text x="649.20" y="74.80" font-size="10.1" font-weight="bold" class="b" textLength="91.50" lengthAdjust="spacingAndGlyphs">Coating with SFMA</text>
<line x1="660.80" y1="147.00" x2="741.00" y2="147.00" stroke="#000" stroke-width="1.5" stroke-linecap="butt"/>
<text x="701.50" y="148.10" font-size="17" text-anchor="middle" stroke="#000" stroke-width="0.45">**</text>
<line x1="745.70" y1="84.20" x2="818.80" y2="84.20" stroke="#000" stroke-width="1.5" stroke-linecap="butt"/>
<text x="781.50" y="85.60" font-size="17" text-anchor="middle" stroke="#000" stroke-width="0.45">***</text>
<text x="584.50" y="237.00" font-size="16.1" font-weight="bold" class="b" textLength="195.00" lengthAdjust="spacingAndGlyphs" transform="rotate(-90 584.50 237.00)">Adhesion Strength (KPa)</text>
<text x="567.00" y="276.80" font-size="25" font-weight="bold" class="b">e</text>
<rect x="635.30" y="434.81" width="47.80" height="45.69" fill="#fbc4c4" stroke="#f0686b" stroke-width="1.4"/>
<line x1="659.20" y1="428.55" x2="659.20" y2="441.06" stroke="#000" stroke-width="1.4" stroke-linecap="butt"/>
<line x1="656.50" y1="428.55" x2="661.90" y2="428.55" stroke="#000" stroke-width="1.3" stroke-linecap="butt"/>
<line x1="656.50" y1="441.06" x2="661.90" y2="441.06" stroke="#000" stroke-width="1.3" stroke-linecap="butt"/>
<circle cx="645.00" cy="431.92" r="3.1" fill="#000"/>
<circle cx="662.60" cy="431.44" r="3.1" fill="#000"/>
<circle cx="667.30" cy="442.98" r="3.1" fill="#000"/>
<rect x="715.00" y="364.58" width="47.70" height="115.92" fill="#d5e5d2" stroke="#0c8c4c" stroke-width="1.4"/>
<line x1="739.50" y1="352.07" x2="739.50" y2="377.57" stroke="#000" stroke-width="1.4" stroke-linecap="butt"/>
<line x1="736.80" y1="352.07" x2="742.20" y2="352.07" stroke="#000" stroke-width="1.3" stroke-linecap="butt"/>
<line x1="736.80" y1="377.57" x2="742.20" y2="377.57" stroke="#000" stroke-width="1.3" stroke-linecap="butt"/>
<circle cx="727.80" cy="379.01" r="3.1" fill="#000"/>
<circle cx="742.00" cy="353.52" r="3.1" fill="#000"/>
<circle cx="748.60" cy="363.14" r="3.1" fill="#000"/>
<rect x="794.30" y="328.50" width="48.20" height="152.00" fill="#d3d9ee" stroke="#7b9bd6" stroke-width="1.4"/>
<line x1="819.00" y1="323.21" x2="819.00" y2="333.80" stroke="#000" stroke-width="1.4" stroke-linecap="butt"/>
<line x1="816.30" y1="323.21" x2="821.70" y2="323.21" stroke="#000" stroke-width="1.3" stroke-linecap="butt"/>
<line x1="816.30" y1="333.80" x2="821.70" y2="333.80" stroke="#000" stroke-width="1.3" stroke-linecap="butt"/>
<circle cx="807.00" cy="329.47" r="3.1" fill="#000"/>
<circle cx="821.80" cy="323.45" r="3.1" fill="#000"/>
<circle cx="826.50" cy="333.80" r="3.1" fill="#000"/>
<line x1="619.90" y1="287.40" x2="619.90" y2="481.45" stroke="#000" stroke-width="1.9" stroke-linecap="butt"/>
<line x1="618.95" y1="480.50" x2="858.50" y2="480.50" stroke="#000" stroke-width="1.9" stroke-linecap="butt"/>
<line x1="615.90" y1="480.50" x2="619.90" y2="480.50" stroke="#000" stroke-width="1.5" stroke-linecap="butt"/>
<text x="613.00" y="483.70" font-size="12" font-weight="bold" class="b" text-anchor="end" textLength="7.22" lengthAdjust="spacingAndGlyphs">0</text>
<line x1="615.90" y1="456.45" x2="619.90" y2="456.45" stroke="#000" stroke-width="1.5" stroke-linecap="butt"/>
<text x="613.00" y="459.65" font-size="12" font-weight="bold" class="b" text-anchor="end" textLength="14.44" lengthAdjust="spacingAndGlyphs">50</text>
<line x1="615.90" y1="432.40" x2="619.90" y2="432.40" stroke="#000" stroke-width="1.5" stroke-linecap="butt"/>
<text x="613.00" y="435.60" font-size="12" font-weight="bold" class="b" text-anchor="end" textLength="21.66" lengthAdjust="spacingAndGlyphs">100</text>
<line x1="615.90" y1="408.35" x2="619.90" y2="408.35" stroke="#000" stroke-width="1.5" stroke-linecap="butt"/>
<text x="613.00" y="411.55" font-size="12" font-weight="bold" class="b" text-anchor="end" textLength="21.66" lengthAdjust="spacingAndGlyphs">150</text>
<line x1="615.90" y1="384.30" x2="619.90" y2="384.30" stroke="#000" stroke-width="1.5" stroke-linecap="butt"/>
<text x="613.00" y="387.50" font-size="12" font-weight="bold" class="b" text-anchor="end" textLength="21.66" lengthAdjust="spacingAndGlyphs">200</text>
<line x1="615.90" y1="360.25" x2="619.90" y2="360.25" stroke="#000" stroke-width="1.5" stroke-linecap="butt"/>
<text x="613.00" y="363.45" font-size="12" font-weight="bold" class="b" text-anchor="end" textLength="21.66" lengthAdjust="spacingAndGlyphs">250</text>
<line x1="615.90" y1="336.20" x2="619.90" y2="336.20" stroke="#000" stroke-width="1.5" stroke-linecap="butt"/>
<text x="613.00" y="339.40" font-size="12" font-weight="bold" class="b" text-anchor="end" textLength="21.66" lengthAdjust="spacingAndGlyphs">300</text>
<line x1="615.90" y1="312.15" x2="619.90" y2="312.15" stroke="#000" stroke-width="1.5" stroke-linecap="butt"/>
<text x="613.00" y="315.35" font-size="12" font-weight="bold" class="b" text-anchor="end" textLength="21.66" lengthAdjust="spacingAndGlyphs">350</text>
<line x1="615.90" y1="288.10" x2="619.90" y2="288.10" stroke="#000" stroke-width="1.5" stroke-linecap="butt"/>
<text x="613.00" y="291.30" font-size="12" font-weight="bold" class="b" text-anchor="end" textLength="21.66" lengthAdjust="spacingAndGlyphs">400</text>
<line x1="659.20" y1="480.50" x2="659.20" y2="484.50" stroke="#000" stroke-width="1.5" stroke-linecap="butt"/>
<line x1="739.30" y1="480.50" x2="739.30" y2="484.50" stroke="#000" stroke-width="1.5" stroke-linecap="butt"/>
<line x1="819.00" y1="480.50" x2="819.00" y2="484.50" stroke="#000" stroke-width="1.5" stroke-linecap="butt"/>
<line x1="699.50" y1="480.50" x2="699.50" y2="482.90" stroke="#000" stroke-width="1.1" stroke-linecap="butt"/>
<line x1="779.30" y1="480.50" x2="779.30" y2="482.90" stroke="#000" stroke-width="1.1" stroke-linecap="butt"/>
<text x="657.00" y="498.00" font-size="12" font-weight="bold" class="b" text-anchor="middle" textLength="18.61" lengthAdjust="spacingAndGlyphs">5%</text>
<text x="738.00" y="498.00" font-size="12" font-weight="bold" class="b" text-anchor="middle" textLength="18.61" lengthAdjust="spacingAndGlyphs">6%</text>
<text x="818.00" y="498.00" font-size="12" font-weight="bold" class="b" text-anchor="middle" textLength="18.61" lengthAdjust="spacingAndGlyphs">7%</text>
<line x1="652.20" y1="347.50" x2="739.00" y2="347.50" stroke="#000" stroke-width="1.5" stroke-linecap="butt"/>
<text x="692.50" y="348.60" font-size="17" text-anchor="middle" stroke="#000" stroke-width="0.45">***</text>
<line x1="741.30" y1="315.00" x2="818.50" y2="315.00" stroke="#000" stroke-width="1.5" stroke-linecap="butt"/>
<text x="778.50" y="316.10" font-size="17" text-anchor="middle" stroke="#000" stroke-width="0.45">**</text>
<text x="584.50" y="479.80" font-size="16.1" font-weight="bold" class="b" textLength="191.50" lengthAdjust="spacingAndGlyphs" transform="rotate(-90 584.50 479.80)">Adhesion Strength (KPa)</text>
<text x="566.60" y="525.90" font-size="25" font-weight="bold" class="b">g</text>
<rect x="654.10" y="626.87" width="59.50" height="104.33" fill="#d3d9ee" stroke="#7b9bd6" stroke-width="1.4"/>
<line x1="683.70" y1="619.14" x2="683.70" y2="635.15" stroke="#000" stroke-width="1.4" stroke-linecap="butt"/>
<line x1="681.00" y1="619.14" x2="686.40" y2="619.14" stroke="#000" stroke-width="1.3" stroke-linecap="butt"/>
<line x1="681.00" y1="635.15" x2="686.40" y2="635.15" stroke="#000" stroke-width="1.3" stroke-linecap="butt"/>
<circle cx="670.20" cy="631.01" r="3.1" fill="#000"/>
<circle cx="688.00" cy="618.59" r="3.1" fill="#000"/>
<circle cx="707.20" cy="632.94" r="3.1" fill="#000"/>
<rect x="773.50" y="598.17" width="59.90" height="133.03" fill="#d5e5d2" stroke="#0c8c4c" stroke-width="1.4"/>
<line x1="803.60" y1="583.26" x2="803.60" y2="613.07" stroke="#000" stroke-width="1.4" stroke-linecap="butt"/>
<line x1="800.90" y1="583.26" x2="806.30" y2="583.26" stroke="#000" stroke-width="1.3" stroke-linecap="butt"/>
<line x1="800.90" y1="613.07" x2="806.30" y2="613.07" stroke="#000" stroke-width="1.3" stroke-linecap="butt"/>
<circle cx="793.60" cy="614.18" r="3.1" fill="#000"/>
<circle cx="810.30" cy="584.92" r="3.1" fill="#000"/>
<circle cx="826.00" cy="596.24" r="3.1" fill="#000"/>
<line x1="624.00" y1="537.30" x2="624.00" y2="732.15" stroke="#000" stroke-width="1.9" stroke-linecap="butt"/>
<line x1="623.05" y1="731.20" x2="863.50" y2="731.20" stroke="#000" stroke-width="1.9" stroke-linecap="butt"/>
<line x1="620.00" y1="731.20" x2="624.00" y2="731.20" stroke="#000" stroke-width="1.5" stroke-linecap="butt"/>
<text x="616.90" y="736.00" font-size="11.5" font-weight="bold" class="b" text-anchor="end" textLength="7.22" lengthAdjust="spacingAndGlyphs">0</text>
<line x1="621.80" y1="717.40" x2="624.00" y2="717.40" stroke="#000" stroke-width="1.0" stroke-linecap="butt"/>
<line x1="620.00" y1="703.60" x2="624.00" y2="703.60" stroke="#000" stroke-width="1.5" stroke-linecap="butt"/>
<text x="616.90" y="708.40" font-size="11.5" font-weight="bold" class="b" text-anchor="end" textLength="14.44" lengthAdjust="spacingAndGlyphs">50</text>
<line x1="621.80" y1="689.80" x2="624.00" y2="689.80" stroke="#000" stroke-width="1.0" stroke-linecap="butt"/>
<line x1="620.00" y1="676.00" x2="624.00" y2="676.00" stroke="#000" stroke-width="1.5" stroke-linecap="butt"/>
<text x="616.90" y="680.80" font-size="11.5" font-weight="bold" class="b" text-anchor="end" textLength="21.66" lengthAdjust="spacingAndGlyphs">100</text>
<line x1="621.80" y1="662.20" x2="624.00" y2="662.20" stroke="#000" stroke-width="1.0" stroke-linecap="butt"/>
<line x1="620.00" y1="648.40" x2="624.00" y2="648.40" stroke="#000" stroke-width="1.5" stroke-linecap="butt"/>
<text x="616.90" y="653.20" font-size="11.5" font-weight="bold" class="b" text-anchor="end" textLength="21.66" lengthAdjust="spacingAndGlyphs">150</text>
<line x1="621.80" y1="634.60" x2="624.00" y2="634.60" stroke="#000" stroke-width="1.0" stroke-linecap="butt"/>
<line x1="620.00" y1="620.80" x2="624.00" y2="620.80" stroke="#000" stroke-width="1.5" stroke-linecap="butt"/>
<text x="616.90" y="625.60" font-size="11.5" font-weight="bold" class="b" text-anchor="end" textLength="21.66" lengthAdjust="spacingAndGlyphs">200</text>
<line x1="621.80" y1="607.00" x2="624.00" y2="607.00" stroke="#000" stroke-width="1.0" stroke-linecap="butt"/>
<line x1="620.00" y1="593.20" x2="624.00" y2="593.20" stroke="#000" stroke-width="1.5" stroke-linecap="butt"/>
<text x="616.90" y="598.00" font-size="11.5" font-weight="bold" class="b" text-anchor="end" textLength="21.66" lengthAdjust="spacingAndGlyphs">250</text>
<line x1="621.80" y1="579.40" x2="624.00" y2="579.40" stroke="#000" stroke-width="1.0" stroke-linecap="butt"/>
<line x1="620.00" y1="565.60" x2="624.00" y2="565.60" stroke="#000" stroke-width="1.5" stroke-linecap="butt"/>
<text x="616.90" y="570.40" font-size="11.5" font-weight="bold" class="b" text-anchor="end" textLength="21.66" lengthAdjust="spacingAndGlyphs">300</text>
<line x1="621.80" y1="551.80" x2="624.00" y2="551.80" stroke="#000" stroke-width="1.0" stroke-linecap="butt"/>
<line x1="620.00" y1="538.00" x2="624.00" y2="538.00" stroke="#000" stroke-width="1.5" stroke-linecap="butt"/>
<text x="616.90" y="542.80" font-size="11.5" font-weight="bold" class="b" text-anchor="end" textLength="21.66" lengthAdjust="spacingAndGlyphs">350</text>
<line x1="743.60" y1="731.20" x2="743.60" y2="733.60" stroke="#000" stroke-width="1.1" stroke-linecap="butt"/>
<rect x="630.00" y="533.40" width="21.60" height="10.80" fill="#d3d9ee" stroke="#7b9bd6" stroke-width="1.5"/>
<text x="654.80" y="542.10" font-size="10.1" font-weight="bold" class="b" textLength="146.00" lengthAdjust="spacingAndGlyphs">Without water vapor annealing</text>
<rect x="630.00" y="546.20" width="21.60" height="10.80" fill="#d5e5d2" stroke="#0c8c4c" stroke-width="1.5"/>
<text x="654.80" y="554.80" font-size="10.1" font-weight="bold" class="b" textLength="135.00" lengthAdjust="spacingAndGlyphs">2 min water vapor annealing</text>
<line x1="685.50" y1="576.80" x2="802.30" y2="576.80" stroke="#000" stroke-width="1.5" stroke-linecap="butt"/>
<text x="747.70" y="578.60" font-size="17" text-anchor="middle" stroke="#000" stroke-width="0.45">*</text>
<text x="588.80" y="731.30" font-size="16.1" font-weight="bold" class="b" textLength="197.00" lengthAdjust="spacingAndGlyphs" transform="rotate(-90 588.80 731.30)">Adhesion strength  (KPa)</text>
</svg>
</body>
</html>
